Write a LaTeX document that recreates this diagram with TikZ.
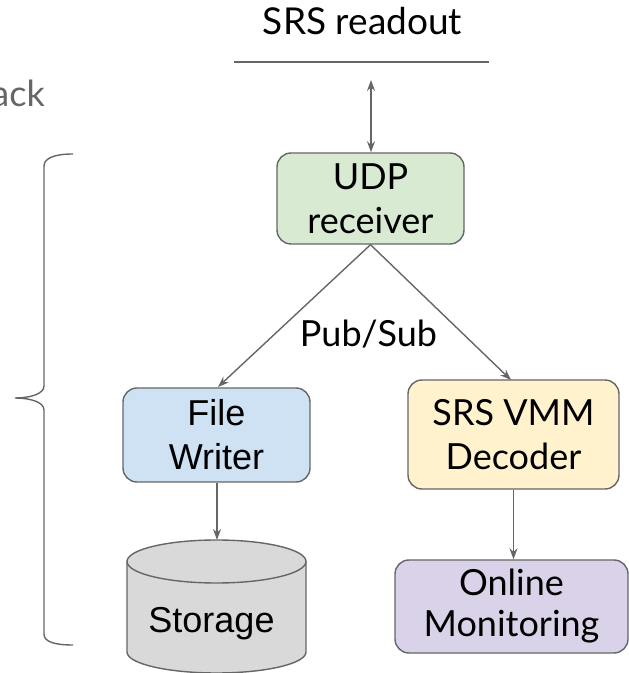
\documentclass[tikz,border=0pt]{standalone}
\usepackage{fontspec}
\setmainfont{Lato}
\newfontfamily\arialish{Liberation Sans}
\usetikzlibrary{arrows.meta}
\definecolor{lineC}{HTML}{666666}
\definecolor{greenF}{HTML}{D9EAD3}
\definecolor{blueF}{HTML}{CFE2F3}
\definecolor{yellowF}{HTML}{FFF2CC}
\definecolor{purpleF}{HTML}{D9D2E9}
\definecolor{grayF}{HTML}{D9D9D9}
\tikzset{
  procbox/.style={draw=lineC, line width=1.4pt, rounded corners=14pt, align=center,
    inner sep=0pt, font=\fontsize{36}{44}\selectfont},
  flow/.style={draw=lineC, line width=1.4pt, -{Stealth[length=11pt,width=8pt]}},
  label/.style={inner sep=0pt, font=\fontsize{36}{44}\selectfont}
}
\begin{document}
\begin{tikzpicture}[x=1pt,y=1pt]
\useasboundingbox (0,0) rectangle (629,673);

% readout bus
\node[label, anchor=base, font=\fontsize{37}{44}\selectfont] (title) at (362.5,638) {SRS readout};
\coordinate (busL) at (234,611);
\coordinate (busR) at (489,611);
\draw[lineC, line width=1.2pt] (busL) -- (busR);
\coordinate (busTap) at (371,593);

% group label, partly off the left edge
\node[label, anchor=base east, text=lineC] (grp) at (45,566) {ack};

% processes
\node[procbox, fill=greenF, minimum width=187pt, minimum height=91pt] (udp) at (370.5,474.5) {UDP\\receiver};
\node[procbox, fill=blueF, minimum width=187pt, minimum height=94pt, font=\arialish\fontsize{36}{44}\selectfont] (fw) at (216.5,238) {File\\Writer};
\node[procbox, fill=yellowF, minimum width=211pt, minimum height=109pt] (dec) at (513.5,238.5) {SRS VMM\\Decoder};
\node[procbox, fill=purpleF, minimum width=233pt, minimum height=93pt, font=\fontsize{36}{41}\selectfont] (mon) at (511.5,66.5) {Online\\Monitoring};

% storage cylinder
\path[fill=grayF, draw=lineC, line width=1.4pt]
  (127,111.5) -- (127,21) arc[start angle=180, end angle=360, x radius=89.5pt, y radius=21pt]
  -- (306,111.5) arc[start angle=0, end angle=180, x radius=89.5pt, y radius=21.5pt] -- cycle;
\draw[lineC, line width=1.4pt] (127,111.5) arc[start angle=180, end angle=360, x radius=89.5pt, y radius=21.5pt];
\node[label, anchor=base, font=\arialish\fontsize{36}{44}\selectfont] (sto) at (211.5,41) {Storage};
\coordinate (stoTop) at (217,133);

% connectors
\draw[draw=lineC, line width=1.4pt, {Stealth[length=11pt,width=8pt]}-{Stealth[length=11pt,width=8pt]}] (busTap) -- (udp.north -| busTap);
\draw[flow] (udp.south) -- (218,286);
\draw[flow] (udp.south) -- (511,293);
\draw[flow] (fw.south -| stoTop) -- (stoTop);
\draw[flow] (dec.south) -- (dec.south |- mon.north);
\node[label, anchor=base] (ps) at (368.5,326) {Pub/Sub};

% brace spanning the stack
\draw[lineC, line width=1.4pt]
  (73,519) .. controls (55,519) and (44,515) .. (44,507)
  -- (44,287) .. controls (44,279) and (30,275) .. (15,275)
  .. controls (30,275) and (44,271) .. (44,263)
  -- (44,39) .. controls (44,31) and (55,28) .. (73,28);
\end{tikzpicture}
\end{document}
